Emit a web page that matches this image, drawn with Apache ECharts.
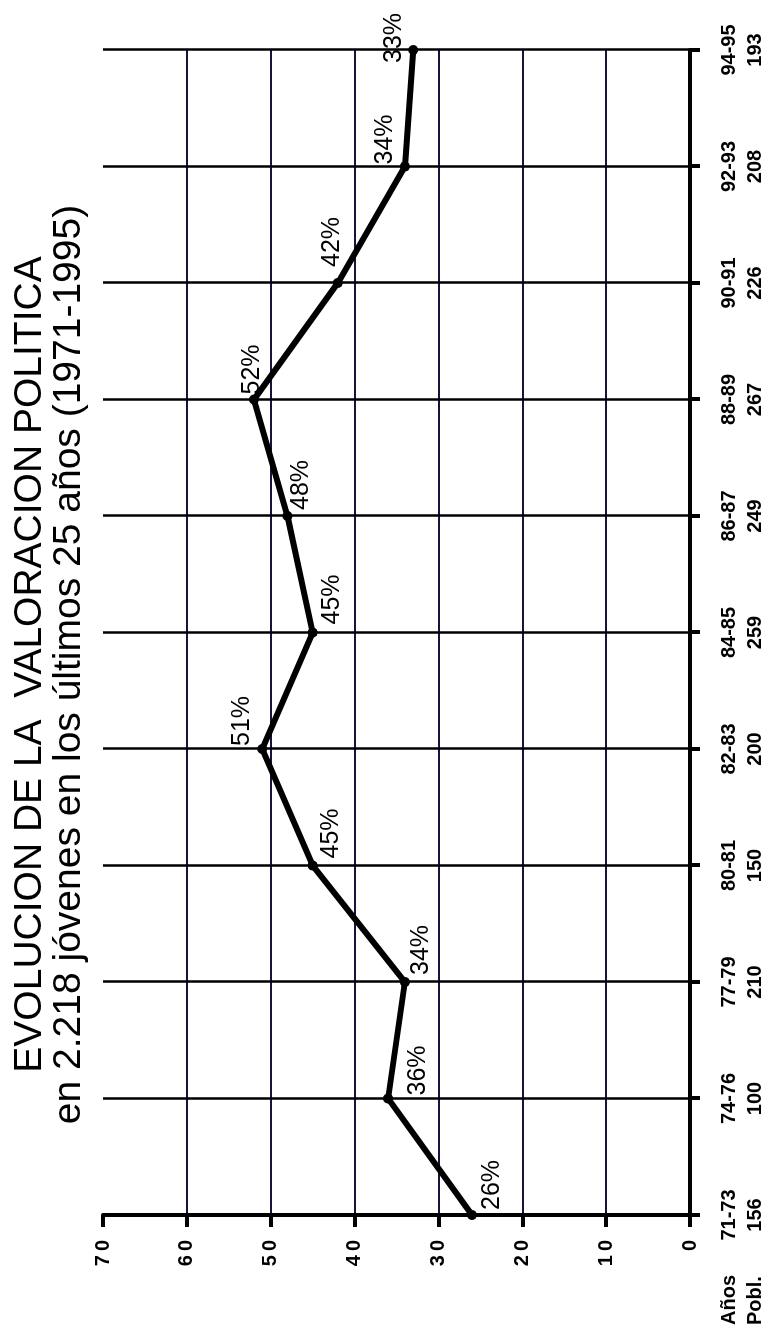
<!DOCTYPE html>
<html><head><meta charset="utf-8">
<script src="https://cdn.jsdelivr.net/npm/echarts@6/dist/echarts.min.js"></script>
<style>
html,body{margin:0;padding:0;background:#fff;overflow:hidden;width:775px;height:1329px;}
#chart{position:absolute;left:0;top:0;width:1329px;height:775px;transform-origin:0 0;transform:translate(0,1329px) rotate(-90deg);background:#fff;}
</style></head><body><div id="chart"></div>
<script>
const periods = ['71-73','74-76','77-79','80-81','82-83','84-85','86-87','88-89','90-91','92-93','94-95'];
const population = [156,100,210,150,200,259,249,267,226,208,193];
const valuation = [26,36,34,45,51,45,48,52,42,34,33];
const valueMin = 0, valueMax = 70, valueStep = 10;
const titleLine1 = 'EVOLUCION DE LA  VALORACION POLITICA';
const titleLine2 = 'en 2.218 jóvenes en los últimos 25 años (1971-1995)';
const rowHeaders = 'Años\nPobl.';

// label placement (style only): [dx, dy] relative to the point
const labelOffsets = [[0,20],[-2,30],[2,16],[2,18],[-2,-20],[3,19],[1,14],[0,-2],[11,-6],[-3,-20],[-18,-19]];

const FONT = 'Liberation Sans, Arial, Helvetica, sans-serif';
const chart = echarts.init(document.getElementById('chart'));
chart.setOption({
  backgroundColor: '#fff',
  animation: false,
  title: {
    left: 'center', top: 6, itemGap: 0,
    text: titleLine1, subtext: titleLine2,
    textStyle: {fontFamily: FONT, fontSize: 39, fontWeight: 'normal', color: '#000'},
    subtextStyle: {fontFamily: FONT, fontSize: 39, color: '#000'}
  },
  grid: {left: 114, right: 50, top: 103, bottom: 85, outerBoundsMode: 'none'},
  xAxis: {
    type: 'category', data: periods, boundaryGap: false,
    axisLine: {lineStyle: {color: '#000', width: 4}},
    axisTick: {show: true, length: 10, lineStyle: {color: '#000', width: 4}},
    splitLine: {show: true, lineStyle: {color: '#000', width: 2.5}},
    axisLabel: {
      interval: 0, margin: 26, fontFamily: FONT, fontSize: 20, fontWeight: 'bold', color: '#000', lineHeight: 26,
      formatter: (v, i) => v + '\n' + population[i]
    }
  },
  yAxis: {
    type: 'value', min: valueMin, max: valueMax, interval: valueStep,
    axisLine: {show: true, lineStyle: {color: '#000', width: 4}},
    axisTick: {show: true, length: 12, lineStyle: {color: '#000', width: 4}},
    splitLine: {show: true, showMinLine: false, showMaxLine: false, lineStyle: {color: '#14143c', width: 2}},
    axisLabel: {
      margin: 25, fontFamily: FONT, fontSize: 20, fontWeight: 'bold', color: '#000',
      formatter: v => String(v).split('').join('\u2009')
    }
  },
  graphic: [{
    type: 'text', left: 4, top: 716,
    style: {text: rowHeaders, font: 'bold 20px ' + FONT, lineHeight: 26, fill: '#000'}
  }],
  series: [{
    type: 'line',
    data: valuation.map((v, i) => ({
      value: v,
      label: {offset: labelOffsets[i]}
    })),
    symbol: 'circle', symbolSize: 10, showAllSymbol: true,
    lineStyle: {color: '#000', width: 6},
    itemStyle: {color: '#000'},
    label: {show: true, position: 'right', distance: 0, fontFamily: FONT, fontSize: 25, color: '#000', formatter: '{c}%'}
  }]
});
</script></body></html>
